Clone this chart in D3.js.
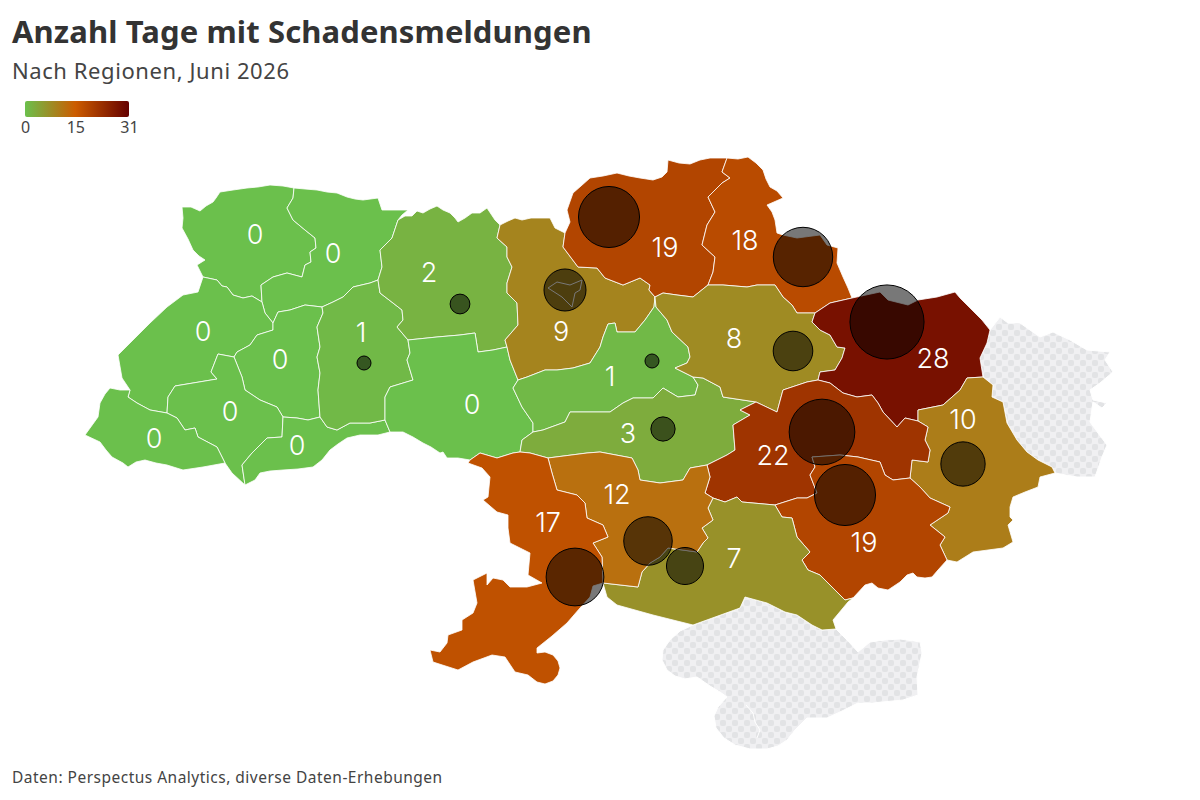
<!DOCTYPE html>
<html>
<head>
<meta charset="utf-8">
<script src="https://cdn.jsdelivr.net/npm/d3@7"></script>
<style>
body { margin: 0; background: #fff; }
text { font-family: "Noto Sans", sans-serif; }
</style>
</head>
<body>
<div class="chart"></div>
<script>
// values per region
const regionNames = ['Volyn','Riwne','Lwiw','Ternopil','Iwano-Frankiwsk','Transkarpatien','Czernowitz','Chmelnyzkyj','Schytomyr','Winnyzja','Kiew','Tscherkassy','Kirowohrad','Tschernihiw','Sumy','Poltawa','Charkiw','Donezk','Dnipro','Saporischschja','Cherson','Mykolajiw','Odessa'];
const days = [0,0,0,0,0,0,0,1,2,0,9,1,3,19,18,8,28,10,22,19,7,12,17];
const noData = ['Luhansk','Krim'];
const legendTicks = [0,15,31];

// map outlines, one array per shared border
const volynTop = [[294,188],[283,186],[270,185],[258,187],[247,188],[233,190],[220,192],[216,198],[213,202],[206,206],[200,211],[191,207],[182,207],[183,218],[182,228],[188,239],[193,250],[199,256],[205,260],[197,265],[200,271],[203,277]];
const volynLviv = [[203,277],[217,280],[222,286],[227,287],[233,295],[243,298],[252,296],[262,302]];
const volynRivne = [[262,302],[261,285],[273,277],[287,273],[302,277],[305,265],[311,262],[310,252],[316,248],[315,238],[305,230],[293,220],[287,208],[293,198],[294,188]];
const rivneTop = [[294,188],[305,189],[317,190],[327,192],[337,193],[347,197],[355,199],[363,200],[378,198],[380,204],[382,210],[395,210],[408,210],[402,215],[398,220]];
const rivneZhyt = [[398,220],[395,229],[392,238],[380,250],[382,267],[378,280]];
const rivneKhmel = [[378,280],[370,283],[353,287],[343,297],[333,302],[322,307]];
const rivneTern = [[322,307],[305,305],[290,310],[278,312],[273,323]];
const rivneLviv = [[273,323],[265,313],[262,302]];
const lvivOuter = [[203,277],[198,292],[183,295],[167,307],[150,323],[134,339],[118,355],[122,378],[130,390]];
const lvivZak = [[130,390],[128,397],[137,403],[150,410],[167,413]];
const lvivIF = [[167,413],[168,397],[175,386],[193,383],[217,379],[211,372],[218,354],[234,357]];
const lvivTern = [[234,357],[237,352],[250,345],[257,335],[273,330],[273,323]];
const ternKhmel = [[322,307],[323,313],[317,327],[320,347],[317,357],[320,373],[318,390],[320,417]];
const ternCher = [[320,417],[308,420],[297,418],[283,417]];
const ternIF = [[283,417],[277,407],[260,400],[245,390],[242,377],[238,367],[234,357]];
const ifCher = [[283,417],[282,437],[267,438],[252,453],[242,465],[245,485]];
const ifOuter = [[245,485],[232,473],[225,463]];
const ifZak = [[225,463],[217,447],[198,437],[195,428],[185,430],[177,418],[167,413]];
const zakOuter = [[130,390],[120,390],[110,388],[105,394],[100,403],[98,417],[85,435],[100,442],[106,450],[112,457],[123,463],[128,467],[136,462],[145,460],[156,463],[167,465],[183,470],[203,467],[225,463]];
const cherKhmel = [[320,417],[327,427],[337,430],[350,423],[370,423],[385,420]];
const cherVinn = [[385,420],[390,432]];
const cherOuter = [[390,432],[378,435],[360,435],[347,438],[338,444],[330,450],[322,460],[313,467],[298,469],[283,470],[270,471],[260,473],[255,480],[245,485]];
const khmelZhyt = [[378,280],[380,293],[393,303],[402,310],[403,320],[397,327],[408,340]];
const khmelVinn = [[408,340],[410,353],[407,360],[413,380],[390,387],[385,397],[385,420]];
const zhytTop = [[398,220],[405,216],[412,216],[417,211],[423,213],[430,209],[437,206],[443,210],[450,213],[455,218],[458,222],[465,218],[472,213],[480,213],[487,208],[491,214],[495,220],[500,225]];
const zhytKyiv = [[500,225],[497,238],[507,247],[507,257],[512,267],[507,283],[507,293],[517,303],[518,325],[505,340],[507,347]];
const zhytVinn = [[507,347],[493,350],[478,352],[475,333],[460,335],[437,337],[408,340]];
const vinnOuter = [[390,432],[403,432],[413,437],[423,443],[431,447],[440,453],[443,452],[447,458],[458,458],[470,460]];
const vinnOdesa = [[470,460],[480,453],[497,458],[513,453],[520,452]];
const vinnKirov = [[520,452],[522,440],[533,432]];
const vinnCherk = [[533,432],[533,423],[522,407],[513,388],[518,380]];
const vinnKyiv = [[518,380],[510,360],[507,347]];
const kyivTop = [[500,225],[508,221],[515,218],[522,220],[531,218],[540,218],[550,218],[555,228],[565,233]];
const kyivChern = [[565,233],[563,247],[578,267],[597,268],[605,278],[623,285],[640,278],[650,285],[649,290],[655,297]];
const kyivCherk = [[655,297],[654,307],[645,320],[635,332],[625,332],[617,332],[615,323],[608,324],[603,337],[600,347],[590,363],[573,368],[557,370],[545,370],[527,377],[518,380]];
const cherkPolt = [[655,297],[656,307],[667,320],[672,332],[688,347],[690,357],[687,363],[675,368],[693,377]];
const cherkKirov = [[693,377],[698,385],[695,395],[678,397],[663,388],[653,398],[633,398],[623,403],[610,412],[590,412],[570,412],[565,422],[543,430],[533,432]];
const poltKirov = [[693,377],[703,378],[720,387],[723,397],[756,402]];
const poltDnipro = [[756,402],[777,412],[783,390],[807,382],[818,380]];
const poltKharkiv = [[818,380],[820,372],[835,370],[842,358],[845,348],[837,347],[830,335],[820,330],[812,322],[815,313]];
const poltSumy = [[815,313],[797,313],[792,305],[783,297],[775,285],[757,285],[747,287],[723,285],[708,285]];
const poltChern = [[708,285],[693,297],[677,295],[663,293],[655,297]];
const kirovDnipro = [[756,402],[740,410],[750,415],[733,425],[735,450],[727,455],[707,465]];
const kirovMyk = [[707,465],[690,468],[683,480],[660,483],[640,480],[638,470],[632,458],[600,452],[587,453],[548,458]];
const kirovOdesa = [[548,458],[530,453],[520,452]];
const chernOuter = [[565,233],[570,222],[567,210],[573,193],[581,186],[590,178],[603,176],[617,173],[629,176],[640,178],[653,180],[662,177],[667,172],[668,160],[679,163],[690,164],[700,160],[710,158],[727,158]];
const chernSumy = [[727,158],[722,172],[730,178],[722,183],[708,197],[715,212],[707,225],[702,245],[715,257],[713,272],[708,285]];
const sumyOuter = [[727,158],[738,159],[748,157],[756,163],[763,170],[766,179],[770,187],[777,191],[783,198],[767,205],[772,212],[775,220],[777,233],[783,235],[797,238],[820,235],[827,245],[838,248],[837,263],[843,277],[848,288],[852,298]];
const sumyKharkiv = [[852,298],[830,303],[815,313]];
const kharkivTop = [[852,298],[880,292],[888,300],[908,305],[918,300],[937,297],[955,292],[960,298],[965,303],[973,311],[982,320],[990,330]];
const kharkivLuhansk = [[990,330],[987,343],[980,358],[983,377]];
const kharkivDonetsk = [[983,377],[967,378],[960,390],[943,405],[918,410],[918,421]];
const kharkivDnipro = [[918,421],[905,418],[897,427],[883,412],[878,403],[872,395],[857,397],[843,393],[830,383],[818,380]];
const donetskLuhansk = [[983,377],[993,385],[992,397],[1003,402],[1007,423],[1017,440],[1027,452],[1038,460],[1052,467],[1055,473]];
const donetskOuter = [[1055,473],[1040,477],[1038,487],[1025,492],[1013,497],[1010,507],[1010,517],[1013,520],[1008,525],[1013,542],[1003,548],[988,550],[973,552],[965,557],[957,562],[947,560]];
const donetskZap = [[947,560],[940,545],[945,537],[930,525],[948,513],[950,507],[930,498],[920,487],[910,478]];
const donetskDnipro = [[910,478],[912,460],[928,462],[930,450],[925,440],[928,427],[918,421]];
const dniproZap = [[910,478],[893,480],[885,475],[880,462],[858,457],[840,455],[812,457],[815,467],[810,475],[817,493],[807,498],[797,498],[775,505]];
const dniproKherson = [[775,505],[742,502],[737,497],[725,502],[713,498]];
const dniproMyk = [[713,498],[705,493],[710,477],[707,465]];
const zapOuter = [[947,560],[938,570],[932,577],[925,578],[917,577],[913,573],[907,575],[900,582],[888,590],[878,588],[872,583],[865,585],[853,598]];
const zapKherson = [[853,598],[845,600],[820,575],[808,570],[802,560],[810,552],[797,537],[792,518],[782,517],[775,505]];
const kherEast = [[853,598],[848,602],[833,620],[836,629]];
const kherCrimea = [[836,629],[822,630],[812,625],[797,615],[785,612],[767,603],[745,597],[740,608],[693,625]];
const kherWest = [[693,625],[673,620],[653,615],[635,610],[617,605],[607,597],[603,583]];
const mykKherson = [[603,583],[638,587],[642,572],[650,563],[660,557],[668,548],[697,552],[703,543],[708,538],[702,528],[713,520],[708,508],[713,498]];
const mykOdesa = [[548,458],[552,473],[557,490],[577,495],[585,503],[587,518],[603,525],[608,537],[593,543],[602,557],[603,583]];
const odesaOuter = [[603,583],[593,586],[590,597],[580,608],[567,623],[552,636],[537,648],[537,653],[545,652],[553,655],[558,661],[560,668],[558,675],[553,681],[545,684],[537,682],[528,675],[515,672],[505,657],[492,655],[473,662],[458,670],[433,662],[430,650],[440,652],[447,643],[448,635],[462,630],[462,620],[473,613],[477,603],[473,580],[487,573],[487,585],[493,578],[503,580],[510,587],[527,587],[542,583],[528,575],[530,553],[510,543],[508,528],[508,515],[497,512],[483,500],[488,497],[490,477],[482,468],[468,463],[470,460]];
const luhanskOuter = [[1055,473],[1077,477],[1095,477],[1102,457],[1107,445],[1098,433],[1090,422],[1093,402],[1102,408],[1107,403],[1093,400],[1090,390],[1100,383],[1113,372],[1105,360],[1110,352],[1087,350],[1070,340],[1053,332],[1040,337],[1020,323],[1008,323],[1000,317],[990,330]];
const crimeaOuter = [[836,629],[848,641],[858,652],[870,642],[885,640],[900,639],[920,642],[922,653],[917,677],[918,695],[903,700],[872,703],[858,703],[842,711],[827,718],[807,718],[795,730],[787,740],[778,746],[767,749],[750,749],[735,745],[724,738],[716,728],[714,716],[718,707],[727,697],[720,692],[710,686],[697,677],[685,679],[675,676],[667,670],[662,660],[663,650],[670,640],[680,631],[693,625]];
const kyivCity = [[548,288],[557,282],[570,285],[582,280],[580,290],[575,293],[572,307],[562,297],[548,288]];
const sevastopolLine = [[746,705],[753,713],[755,722],[760,730],[757,738]];

const rev = a => a.slice().reverse();
const ring = (...arcs) => arcs.flat();

const regionRings = [
    ring(volynTop, volynLviv, volynRivne),
    ring(rivneTop, rivneZhyt, rivneKhmel, rivneTern, rivneLviv, volynRivne),
    ring(lvivOuter, lvivZak, lvivIF, lvivTern, rivneLviv, rev(volynLviv)),
    ring(ternKhmel, ternCher, ternIF, lvivTern, rev(rivneTern)),
    ring(ifCher, ifOuter, ifZak, lvivIF, rev(ternIF)),
    ring(zakOuter, ifZak, rev(lvivZak)),
    ring(cherKhmel, cherVinn, cherOuter, rev(ifCher), rev(ternCher)),
    ring(khmelZhyt, khmelVinn, rev(cherKhmel), rev(ternKhmel), rev(rivneKhmel)),
    ring(zhytTop, zhytKyiv, zhytVinn, rev(khmelZhyt), rev(rivneZhyt)),
    ring(vinnOuter, vinnOdesa, vinnKirov, vinnCherk, vinnKyiv, zhytVinn, khmelVinn, cherVinn),
    ring(kyivTop, kyivChern, kyivCherk, vinnKyiv, rev(zhytKyiv)),
    ring(cherkPolt, cherkKirov, vinnCherk, rev(kyivCherk)),
    ring(poltKirov, kirovDnipro, kirovMyk, kirovOdesa, vinnKirov, rev(cherkKirov)),
    ring(chernOuter, chernSumy, poltChern, rev(kyivChern)),
    ring(sumyOuter, sumyKharkiv, poltSumy, rev(chernSumy)),
    ring(cherkPolt, poltKirov, poltDnipro, poltKharkiv, poltSumy, poltChern),
    ring(kharkivTop, kharkivLuhansk, kharkivDonetsk, kharkivDnipro, poltKharkiv, rev(sumyKharkiv)),
    ring(donetskLuhansk, donetskOuter, donetskZap, donetskDnipro, rev(kharkivDonetsk)),
    ring(rev(donetskDnipro), dniproZap, dniproKherson, dniproMyk, rev(kirovDnipro), poltDnipro, rev(kharkivDnipro)),
    ring(zapOuter, zapKherson, rev(dniproZap), rev(donetskZap)),
    ring(kherEast, kherCrimea, kherWest, mykKherson, rev(dniproKherson), rev(zapKherson)),
    ring(mykOdesa, mykKherson, dniproMyk, kirovMyk),
    ring(odesaOuter, vinnOdesa, rev(kirovOdesa), mykOdesa)
];
const noDataRings = [
    ring(kharkivLuhansk, donetskLuhansk, luhanskOuter),
    ring(rev(kherCrimea), crimeaOuter)
];

// map points for the number labels and the circles, same order as regionNames
const labelPoints = [[255,234],[333,253],[203,331],[280,359],[230,411],[154,438],[297,445],[361,332],[429,272],[472,404],[561,331],[610,376],[628,433],[665,247],[745,240],[734,338],[933,358],[963,419],[773,455],[864,542],[734,558],[617,494],[548,522]];
const bubblePoints = [[255,234],[333,253],[203,331],[280,359],[230,411],[154,438],[297,445],[364,363],[460,304],[472,404],[565,290],[652,361],[663,429],[609,217],[803,257],[793,351],[887,322],[963,464],[822,432],[845,495],[685,566],[648,541],[575,577]];

const width = 1200, height = 800;

const colorScale = d3.scaleLinear()
    .domain(legendTicks)
    .range(['#6bc04c','#cc5c00','#650000']);
const rScale = d3.scaleSqrt()
    .domain([0,31])
    .range([0,39]);
const projection = d3.geoIdentity();
const path = d3.geoPath(projection);
const polygon = pts => ({type:'Polygon', coordinates:[pts]});

const svg = d3.select('.chart')
    .append('svg')
    .attr('width', width)
    .attr('height', height);

const defs = svg.append('defs');

const gradient = defs.append('linearGradient').attr('id','legend-gradient');
gradient.selectAll('stop')
    .data(legendTicks)
    .enter()
    .append('stop')
    .attr('offset', d => d/31)
    .attr('stop-color', d => colorScale(d));

const pattern = defs.append('pattern')
    .attr('id','nodata')
    .attr('width',12)
    .attr('height',12)
    .attr('patternUnits','userSpaceOnUse');
pattern.append('rect').attr('width',12).attr('height',12).attr('fill','#f0f0f2');
pattern.selectAll('rect.dot')
    .data([[0,0],[6,6]])
    .enter()
    .append('rect')
    .attr('class','dot')
    .attr('x',d=>d[0])
    .attr('y',d=>d[1])
    .attr('width',6)
    .attr('height',6)
    .attr('rx',2)
    .attr('fill','#e2e3e5');

// title block
svg.append('text').text('Anzahl Tage mit Schadensmeldungen')
    .attr('x',12).attr('y',43)
    .attr('font-size',31).attr('font-weight',700).attr('fill','#333')
    .attr('letter-spacing',0.12);
svg.append('text').text('Nach Regionen, Juni 2026')
    .attr('x',12).attr('y',79)
    .attr('font-size',22).attr('fill','#444')
    .attr('letter-spacing',0.58);
svg.append('text').text('Daten: Perspectus Analytics, diverse Daten-Erhebungen')
    .attr('x',12).attr('y',783)
    .attr('font-size',15.5).attr('fill','#444')
    .attr('letter-spacing',0.49);

// legend
const legendScale = d3.scaleLinear().domain([0,31]).range([25,129]);
svg.append('rect')
    .attr('x',25).attr('y',101)
    .attr('width',104).attr('height',16)
    .attr('rx',2)
    .attr('fill','url(#legend-gradient)');
const legendAxis = d3.axisBottom(legendScale).tickValues(legendTicks).tickSize(0).tickPadding(5);
const legendG = svg.append('g').attr('transform','translate(0,117)').call(legendAxis);
legendG.select('.domain').remove();
legendG.selectAll('text').style('font-size','16px').attr('fill','#444').style('font-family','"Noto Sans", sans-serif');

// map
const map = svg.append('g');
map.selectAll('path.nodata')
    .data(noDataRings)
    .enter()
    .append('path')
    .attr('class','nodata')
    .attr('d',d=>path(polygon(d)))
    .attr('fill','url(#nodata)')
    .attr('stroke','#fff')
    .attr('stroke-width',1);
map.append('path')
    .attr('d',path({type:'LineString',coordinates:sevastopolLine}))
    .attr('fill','none').attr('stroke','#fff').attr('stroke-width',1);

map.selectAll('path.region')
    .data(regionRings)
    .enter()
    .append('path')
    .attr('class','region')
    .attr('d',d=>path(polygon(d)))
    .attr('fill',(d,i)=>colorScale(days[i]))
    .attr('stroke','#fff')
    .attr('stroke-opacity',0.8)
    .attr('stroke-width',1)
    .attr('stroke-linejoin','round');
map.append('path')
    .attr('d',path(polygon(kyivCity)))
    .attr('fill',colorScale(days[regionNames.indexOf('Kiew')]))
    .attr('stroke','#fff')
    .attr('stroke-width',1);

// circles, only where there is something to show
const bubbles = regionNames.map((name,i)=>({name, value:days[i], p:projection(bubblePoints[i])})).filter(d=>d.value>0);
map.selectAll('circle')
    .data(bubbles)
    .enter()
    .append('circle')
    .attr('cx',d=>d.p[0])
    .attr('cy',d=>d.p[1])
    .attr('r',d=>rScale(d.value))
    .attr('fill','#000')
    .attr('fill-opacity',0.53)
    .attr('stroke','#000')
    .attr('stroke-width',1);

map.selectAll('text.value')
    .data(regionNames)
    .enter()
    .append('text')
    .attr('class','value')
    .text((d,i)=>days[i])
    .attr('x',(d,i)=>projection(labelPoints[i])[0])
    .attr('y',(d,i)=>projection(labelPoints[i])[1])
    .attr('text-anchor','middle')
    .attr('dominant-baseline','central')
    .attr('font-size',27)
    .attr('font-weight',350)
    .attr('fill','#fff')
    .style('font-family','Inter, sans-serif');
</script>
</body>
</html>
